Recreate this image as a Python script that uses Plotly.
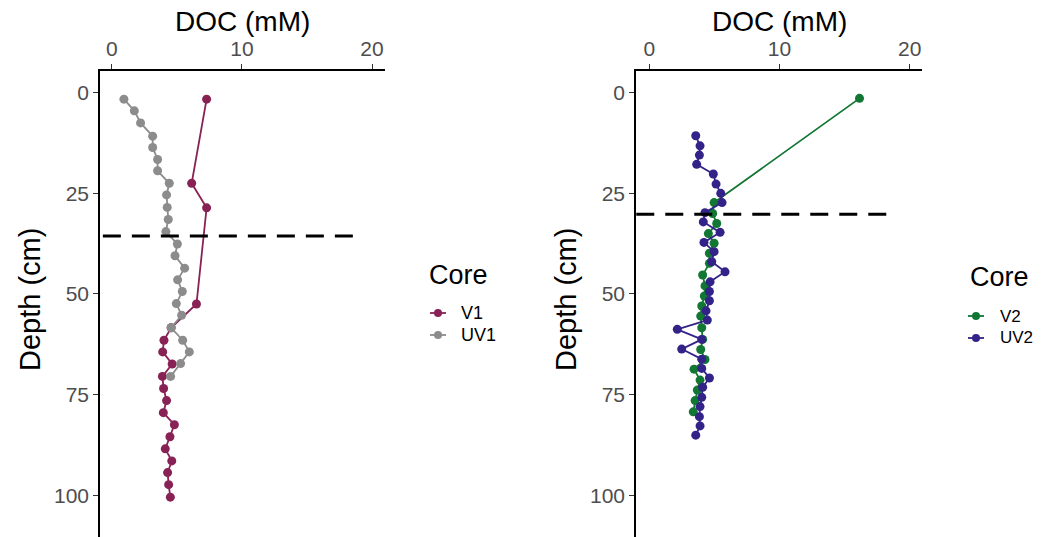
import plotly.graph_objects as go

# ---------------- data ----------------
# Left panel
v1_depth = [1.6, 22.5, 28.6, 52.5, 58.4, 61.5, 64.4, 67.4, 70.5, 73.5, 76.5, 79.5, 82.5, 85.5, 88.5, 91.5, 94.4, 97.4, 100.5]
v1_doc = [7.28, 6.13, 7.28, 6.5, 4.55, 4.0, 3.9, 4.63, 3.88, 3.97, 4.2, 3.95, 4.8, 4.46, 4.1, 4.6, 4.28, 4.36, 4.49]

uv1_depth = [1.6, 4.5, 7.5, 10.8, 13.6, 16.6, 19.4, 22.5, 25.4, 28.5, 31.5, 34.5, 37.6, 40.5, 43.6, 46.5, 49.4, 52.4,
             55.3, 58.4, 61.5, 64.4, 67.3, 70.5]
uv1_doc = [0.92, 1.72, 2.2, 3.13, 3.13, 3.51, 3.51, 4.41, 4.2, 4.25, 4.33, 4.15, 5.03, 4.85, 5.59, 5.05, 5.41, 4.95,
           5.36, 4.55, 5.44, 5.95, 5.28, 4.51]

# Right panel
v2_depth = [1.4, 27.3, 30.0, 32.5, 35.0, 37.4, 39.9, 42.4, 45.3, 48.0, 50.5, 53.0, 55.5, 58.4, 61.3, 63.8, 66.3,
            68.7, 71.4, 73.9, 76.5, 79.3]
v2_doc = [16.15, 4.98, 4.87, 5.18, 4.54, 4.98, 4.62, 4.62, 4.1, 4.28, 4.23, 4.03, 3.95, 4.03, 4.1, 3.95, 4.28,
          3.44, 3.9, 3.69, 3.52, 3.38]

uv2_depth = [10.7, 13.2, 15.5, 17.8, 20.2, 22.7, 25.0, 27.3, 29.8, 32.1, 34.7, 37.2, 39.5, 42.0, 44.5, 47.0, 49.4,
             51.7, 54.2, 56.5, 58.8, 61.3, 63.7, 66.2, 68.5, 70.9, 73.2, 75.7, 78.0, 80.5, 82.8, 85.1]
uv2_doc = [3.57, 3.9, 3.85, 3.64, 4.92, 5.13, 5.49, 5.59, 4.28, 4.15, 5.44, 4.2, 4.98, 4.8, 5.82, 4.67, 4.62,
           4.62, 4.36, 4.46, 2.15, 4.03, 2.49, 4.03, 4.03, 4.62, 4.1, 4.03, 3.9, 3.85, 3.9, 3.57]

# dashed reference depths
left_ref_depth = 35.6
right_ref_depth = 30.2

x_ticks = [0, 10, 20]
y_ticks = [0, 25, 50, 75, 100]

left_legend = ["V1", "UV1"]
right_legend = ["V2", "UV2"]

C_V1 = "#882255"
C_UV1 = "#8C8C8C"
C_V2 = "#117733"
C_UV2 = "#332288"

FONT = "Liberation Sans, Arial, sans-serif"
W, H = 1049, 537
TOP = 71
PH = H - TOP  # plot-area height in px


def px(p):
    return p / W


def py(p):
    return (H - p) / PH


fig = go.Figure()


def add_series(x, y, color, name, xa, ya):
    fig.add_trace(go.Scatter(
        x=x, y=y, mode="lines+markers", name=name,
        line=dict(color=color, width=1.8),
        marker=dict(color=color, size=9),
        xaxis=xa, yaxis=ya, showlegend=False,
    ))


add_series(v1_doc, v1_depth, C_V1, "V1", "x", "y")
add_series(uv1_doc, uv1_depth, C_UV1, "UV1", "x", "y")
add_series(v2_doc, v2_depth, C_V2, "V2", "x2", "y2")
add_series(uv2_doc, uv2_depth, C_UV2, "UV2", "x2", "y2")

# dashed lines
fig.add_shape(type="line", xref="x", yref="y", x0=-0.7, x1=18.8, y0=left_ref_depth, y1=left_ref_depth,
              line=dict(color="black", width=3, dash="18px,11px"))
fig.add_shape(type="line", xref="x2", yref="y2", x0=-1.0, x1=18.3, y0=right_ref_depth, y1=right_ref_depth,
              line=dict(color="black", width=3, dash="18px,11px"))

annotations = []


def legend_block(title_x, title_y, key_x, label_x, item_ys, names, colors, fsize):
    annotations.append(dict(text="Core", x=px(title_x), y=py(title_y), xref="paper", yref="paper",
                            showarrow=False, xanchor="left", yanchor="middle",
                            font=dict(family=FONT, size=27, color="black")))
    for yy, nm, col in zip(item_ys, names, colors):
        fig.add_shape(type="line", xref="paper", yref="paper", x0=px(key_x - 8), x1=px(key_x + 8),
                      y0=py(yy), y1=py(yy), line=dict(color=col, width=1.8))
        fig.add_shape(type="circle", xref="paper", yref="paper", xsizemode="pixel", ysizemode="pixel",
                      xanchor=px(key_x), yanchor=py(yy), x0=-4, x1=4, y0=-4, y1=4,
                      fillcolor=col, line=dict(color=col, width=0))
        annotations.append(dict(text=nm, x=px(label_x), y=py(yy), xref="paper", yref="paper",
                                showarrow=False, xanchor="left", yanchor="middle", borderpad=0,
                                font=dict(family=FONT, size=fsize, color="black")))


legend_block(427, 275, 438, 460, [313, 335], left_legend, [C_V1, C_UV1], 18)
legend_block(968, 277, 976, 999, [316, 338], right_legend, [C_V2, C_UV2], 17)

for cx in (242, 779):
    annotations.append(dict(text="DOC (mM)", x=px(cx), y=py(22), xref="paper", yref="paper", showarrow=False,
                            font=dict(family=FONT, size=28, color="black"), xanchor="center", yanchor="middle"))
for cx in (30, 566):
    annotations.append(dict(text="Depth (cm)", x=px(cx), y=py(300), xref="paper", yref="paper", showarrow=False,
                            textangle=-90, font=dict(family=FONT, size=29, color="black"),
                            xanchor="center", yanchor="middle"))

xcommon = dict(side="top", tickvals=x_ticks, ticks="outside", ticklen=5, tickwidth=1.3, tickcolor="#333333",
               showline=True, linecolor="black", linewidth=1.6, showgrid=False, zeroline=False,
               tickfont=dict(family=FONT, size=21, color="#4D4D4D"))
ycommon = dict(tickvals=y_ticks, ticks="outside", ticklen=5, tickwidth=1.3, tickcolor="#333333",
               showline=True, linecolor="black", linewidth=1.6, showgrid=False, zeroline=False,
               range=[110.4, -5.4], tickfont=dict(family=FONT, size=21, color="#4D4D4D"))

fig.update_layout(
    width=W, height=H,
    margin=dict(l=0, r=0, t=TOP, b=0),
    plot_bgcolor="white", paper_bgcolor="white",
    xaxis=dict(domain=[100 / W, 385 / W], range=[-0.92, 21.0], anchor="y", **xcommon),
    yaxis=dict(domain=[0, 1], anchor="x", **ycommon),
    xaxis2=dict(domain=[636 / W, 922 / W], range=[-1.02, 20.95], anchor="y2", **xcommon),
    yaxis2=dict(domain=[0, 1], anchor="x2", **ycommon),
    showlegend=False,
    annotations=annotations,
)

fig.write_html("out.html")
